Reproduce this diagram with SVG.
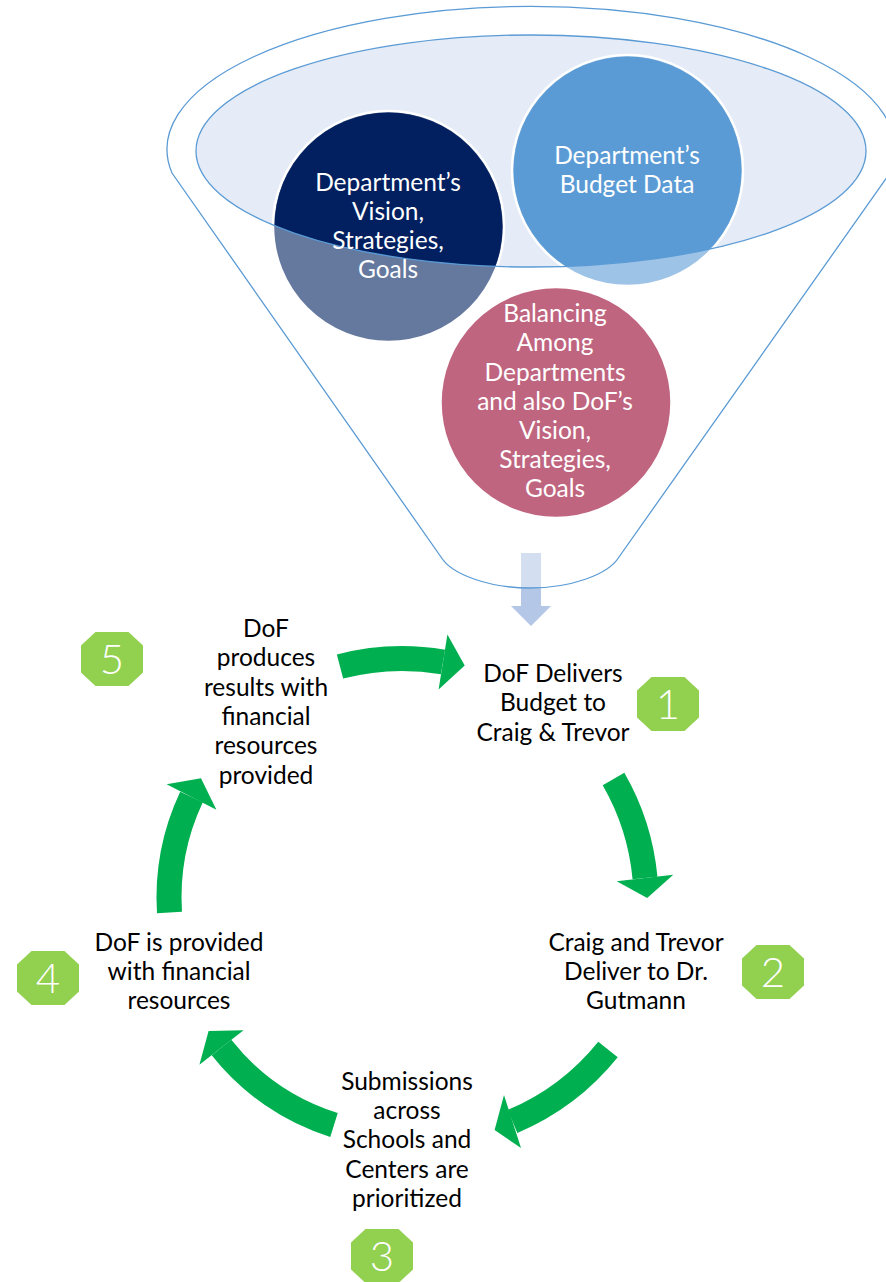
<svg xmlns="http://www.w3.org/2000/svg" width="886" height="1282" viewBox="0 0 886 1282">
  <style>
    .lbl { font-family: Lato, "Liberation Sans", sans-serif; font-size: 24.5px; fill: #000; text-anchor: middle; }
    .ctext { font-family: Lato, "Liberation Sans", sans-serif; font-size: 24.5px; fill: #fff; text-anchor: middle; }
    .num { font-family: Lato, "Liberation Sans", sans-serif; font-weight: 300; font-size: 42px; fill: #fff; text-anchor: middle; }
    .oct { fill: #92D050; }
    .shaft { fill: none; stroke: #00B050; stroke-width: 25; stroke-linecap: butt; }
    .head { fill: #00B050; }
    .rim { fill: none; stroke: #5B9BD5; stroke-width: 1.3; }
  </style>
  <defs>
    <clipPath id="mouth"><ellipse cx="531" cy="151" rx="335" ry="116"/></clipPath>
    <clipPath id="funnelInside"><path d="M 172 173 A 364 143 0 1 1 890 173 L 619 557 C 608 575 570 588 530 588 C 490 588 452 575 441 557 Z"/></clipPath>
    <polygon id="downArrow" points="521,553 541,553 541,606 551,606 531,626 511,606 521,606"/>
  </defs>

  <!-- funnel -->
  <g id="funnel">
    <use href="#downArrow" fill="#B4C7E7"/>
    <use href="#downArrow" fill="#D3DFF0" clip-path="url(#funnelInside)"/>
    <path class="rim" d="M 172 173 A 364 143 0 1 1 890 173 L 619 557 C 608 575 570 588 530 588 C 490 588 452 575 441 557 Z"/>
    <ellipse cx="531" cy="151" rx="335" ry="116" fill="#E5ECF7"/>
  </g>

  <g id="vision">
    <circle cx="388.5" cy="226.5" r="115.5" fill="#65789E" stroke="#fff" stroke-width="2.5"/>
    <circle cx="388.5" cy="226.5" r="114" fill="#02205F" clip-path="url(#mouth)"/>
  </g>
  <g id="budget">
    <circle cx="627.5" cy="170.5" r="115.5" fill="#9DC3E6" stroke="#fff" stroke-width="2.5"/>
    <circle cx="627.5" cy="170.5" r="114" fill="#5B9BD5" clip-path="url(#mouth)"/>
  </g>
  <g id="balancing">
    <circle cx="556" cy="402.5" r="115.5" fill="#C0657F" stroke="#fff" stroke-width="2.5"/>
  </g>

  <ellipse class="rim" cx="531" cy="151" rx="335" ry="116"/>

  <g id="circle-labels">
    <text class="ctext" x="388" y="191">Department’s</text>
    <text class="ctext" x="388" y="220">Vision,</text>
    <text class="ctext" x="388" y="249">Strategies,</text>
    <text class="ctext" x="388" y="278">Goals</text>
    <text class="ctext" x="627" y="164">Department’s</text>
    <text class="ctext" x="627" y="193">Budget Data</text>
    <text class="ctext" x="555" y="322">Balancing</text>
    <text class="ctext" x="555" y="351">Among</text>
    <text class="ctext" x="555" y="380.5">Departments</text>
    <text class="ctext" x="555" y="410">and also DoF’s</text>
    <text class="ctext" x="555" y="439">Vision,</text>
    <text class="ctext" x="555" y="468">Strategies,</text>
    <text class="ctext" x="555" y="497">Goals</text>
  </g>

  <!-- cycle connectors -->
  <g id="connectors">
    <path class="shaft" d="M 340 666.5 A 245 245 0 0 1 443 662"/>
    <polygon class="head" points="447.4,634.4 464.7,665.5 438.6,689.6"/>
    <path class="shaft" d="M 613.5 779 A 243 243 0 0 1 645 878"/>
    <polygon class="head" points="673.3,874.8 647.2,898 616.7,881.2"/>
    <path class="shaft" d="M 608 1049.5 A 245 245 0 0 1 512.5 1121.5"/>
    <polygon class="head" points="504,1095 494.6,1130 521,1148"/>
    <path class="shaft" d="M 334 1125 A 232 232 0 0 1 221.5 1047.5"/>
    <polygon class="head" points="243.6,1030.3 208.6,1031 199.4,1064.7"/>
    <path class="shaft" d="M 169.5 912.5 A 236 236 0 0 1 191.5 797"/>
    <polygon class="head" points="216.4,809.7 201,778.3 166.6,784.3"/>
  </g>

  <g id="step1">
    <polygon class="oct" points="651.5,677 684.5,677 699,690.5 699,717.5 684.5,731 651.5,731 637,717.5 637,690.5"/>
    <text class="num" x="668" y="719">1</text>
    <text class="lbl" x="553" y="682">DoF Delivers</text>
    <text class="lbl" x="553" y="711">Budget to</text>
    <text class="lbl" x="553" y="740.5">Craig &amp; Trevor</text>
  </g>
  <g id="step2">
    <polygon class="oct" points="756.5,945 789.5,945 804,958.5 804,985.5 789.5,999 756.5,999 742,985.5 742,958.5"/>
    <text class="num" x="773" y="987">2</text>
    <text class="lbl" x="636" y="951">Craig and Trevor</text>
    <text class="lbl" x="636" y="980">Deliver to Dr.</text>
    <text class="lbl" x="636" y="1009">Gutmann</text>
  </g>
  <g id="step3">
    <polygon class="oct" points="365.5,1229 398.5,1229 413,1242.5 413,1269.5 398.5,1283 365.5,1283 351,1269.5 351,1242.5"/>
    <text class="num" x="382" y="1271">3</text>
    <text class="lbl" x="407" y="1090">Submissions</text>
    <text class="lbl" x="407" y="1119">across</text>
    <text class="lbl" x="407" y="1148">Schools and</text>
    <text class="lbl" x="407" y="1178">Centers are</text>
    <text class="lbl" x="407" y="1207">prioritized</text>
  </g>
  <g id="step4">
    <polygon class="oct" points="31.5,951 64.5,951 79,964.5 79,991.5 64.5,1005 31.5,1005 17,991.5 17,964.5"/>
    <text class="num" x="48" y="993">4</text>
    <text class="lbl" x="179" y="951">DoF is provided</text>
    <text class="lbl" x="179" y="980">with financial</text>
    <text class="lbl" x="179" y="1009">resources</text>
  </g>
  <g id="step5">
    <polygon class="oct" points="95.5,632 128.5,632 143,645.5 143,672.5 128.5,686 95.5,686 81,672.5 81,645.5"/>
    <text class="num" x="112" y="674">5</text>
    <text class="lbl" x="266" y="637">DoF</text>
    <text class="lbl" x="266" y="666.3">produces</text>
    <text class="lbl" x="266" y="695.6">results with</text>
    <text class="lbl" x="266" y="725">financial</text>
    <text class="lbl" x="266" y="754.2">resources</text>
    <text class="lbl" x="266" y="783.5">provided</text>
  </g>
</svg>
